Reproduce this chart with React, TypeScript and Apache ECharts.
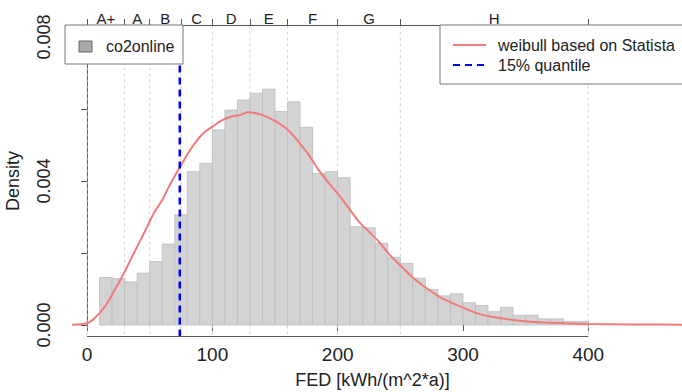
import React, { useEffect, useRef } from "react";
import * as echarts from "echarts";

// Energy efficiency class boundaries (top axis) and labels
const classEdges = [0, 30, 50, 75, 100, 130, 160, 200, 250, 400];
const classLabels = ["A+", "A", "B", "C", "D", "E", "F", "G", "H"];

// Histogram (co2online) bins
const binStarts = [
  10, 20, 30, 40, 50, 60, 70, 80, 90, 100, 110, 120, 130, 140, 150, 160, 170, 180, 190, 200,
  210, 220, 230, 240, 250, 260, 270, 280, 290, 300, 310, 320, 330, 340, 350, 360, 370, 380, 390,
];
const binWidth = 10;
const binDensity = [
  0.00132, 0.00129, 0.0012, 0.00144, 0.00176, 0.00225, 0.00306, 0.00426, 0.00449, 0.00542,
  0.00597, 0.00625, 0.00644, 0.00655, 0.00593, 0.0062, 0.00549, 0.00421, 0.00426, 0.00409,
  0.00273, 0.0027, 0.00227, 0.00188, 0.00171, 0.0013, 0.00099, 0.00081, 0.00087, 0.00062,
  0.00054, 0.00037, 0.00049, 0.00027, 0.00027, 0.00017, 0.00017, 0.0001, 0.0001,
];

// Weibull curve
const weibullX = [
  -12, 0, 6, 14, 22, 30, 38, 46, 54, 60, 66, 75, 84, 92, 100, 108, 116, 122, 128, 135, 143,
  151, 159, 165, 171, 177, 185, 193, 201, 209, 217, 225, 233, 241, 251, 260, 271, 281, 292,
  303, 313, 324, 336, 345, 361, 382, 401, 435, 480,
];
const weibullY = [
  0.00001, 0.00005, 0.00019, 0.0005, 0.00097, 0.00148, 0.00204, 0.00259, 0.00315, 0.00347,
  0.00389, 0.00444, 0.00495, 0.0053, 0.00551, 0.00569, 0.0058, 0.00583, 0.00591, 0.00588,
  0.00579, 0.00565, 0.00546, 0.00525, 0.00499, 0.00472, 0.0043, 0.00394, 0.00361, 0.00324,
  0.00287, 0.00259, 0.00231, 0.00197, 0.00162, 0.00132, 0.00102, 0.00079, 0.0006, 0.00044,
  0.00031, 0.00022, 0.00016, 0.00012, 0.000075, 0.000046, 0.00003, 0.000015, 0.00001,
];

const quantile15 = 74;
const xTickValues = [0, 100, 200, 300, 400];
const xRange = { min: -19.2, max: 474.8 };
const yTicks = { min: 0, max: 0.008, interval: 0.002 };
const yPadLow = -0.00032;
const yPadHigh = 0.00832;

const FONT = "'Liberation Sans', Arial, Helvetica, sans-serif";
const TEXT = "#222";
const AXIS = "#555";

export default function App() {
  const ref = useRef<HTMLDivElement>(null);

  useEffect(() => {
    if (!ref.current) return;
    const chart = echarts.init(ref.current, null, { renderer: "svg" });
    const classMid = classLabels.map((_, i) => (classEdges[i] + classEdges[i + 1]) / 2);
    const xFirst = xTickValues[0];
    const xLast = xTickValues[xTickValues.length - 1];

    const option: any = {
      animation: false,
      grid: { left: 63, right: 0, top: 37, bottom: 67, outerBoundsMode: "none", containLabel: false },
      xAxis: [
        {
          type: "value",
          min: xRange.min,
          max: xRange.max,
          position: "bottom",
          offset: 12,
          axisLine: { show: false },
          axisTick: {
            show: true,
            length: 6,
            customValues: xTickValues,
            lineStyle: { color: AXIS },
          },
          axisLabel: {
            customValues: xTickValues,
            fontSize: 19,
            color: TEXT,
            fontFamily: FONT,
            margin: 8,
          },
          splitLine: { show: false },
          name: "FED [kWh/(m^2*a)]",
          nameLocation: "middle",
          nameGap: 34,
          nameTextStyle: { fontSize: 18, color: TEXT, fontFamily: FONT },
        },
        {
          type: "value",
          min: xRange.min,
          max: xRange.max,
          position: "top",
          offset: 12,
          axisLine: { show: false },
          axisTick: { show: true, length: 6, customValues: classEdges, lineStyle: { color: AXIS } },
          axisLabel: {
            customValues: classMid,
            formatter: (v: number) => {
              const i = classMid.findIndex((m) => Math.abs(m - v) < 1e-6);
              return i >= 0 ? classLabels[i] : "";
            },
            fontSize: 15,
            color: TEXT,
            fontFamily: FONT,
            margin: -1,
          },
          splitLine: { show: false },
        },
      ],
      yAxis: {
        type: "value",
        min: yTicks.min,
        max: yTicks.max,
        interval: yTicks.interval,
        axisLine: { show: true, lineStyle: { color: AXIS, width: 1 } },
        axisTick: { show: true, length: 6, lineStyle: { color: AXIS } },
        axisLabel: {
          rotate: 90,
          fontSize: 18,
          color: TEXT,
          fontFamily: FONT,
          margin: 10,
          formatter: (v: number) =>
            Math.round(v / yTicks.interval) % 2 === 0 ? v.toFixed(3) : "",
        },
        splitLine: { show: false },
        name: "Density",
        nameLocation: "middle",
        nameGap: 41,
        nameTextStyle: { fontSize: 18, color: TEXT, fontFamily: FONT },
      },
      series: [
        {
          type: "custom",
          name: "grid",
          clip: false,
          silent: true,
          data: classEdges.map((v) => [v]),
          encode: { x: 0 },
          renderItem: (_p: any, api: any) => {
            const x = api.value(0);
            const a = api.coord([x, yPadHigh]);
            const b = api.coord([x, yPadLow]);
            return {
              type: "line",
              shape: { x1: a[0], y1: a[1], x2: b[0], y2: b[1] },
              style: { stroke: "#d4d4d4", lineWidth: 1, lineDash: [3, 3] },
            };
          },
          z: 1,
        },
        {
          type: "custom",
          name: "axisLines",
          clip: false,
          silent: true,
          data: [[xFirst, xLast]],
          encode: { x: [0, 1] },
          renderItem: (_p: any, api: any) => {
            const b0 = api.coord([api.value(0), yPadLow]);
            const b1 = api.coord([api.value(1), yPadLow]);
            const t0 = api.coord([api.value(0), yPadHigh]);
            const t1 = api.coord([api.value(1), yPadHigh]);
            return {
              type: "group",
              children: [
                {
                  type: "line",
                  shape: { x1: b0[0], y1: b0[1], x2: b1[0], y2: b1[1] },
                  style: { stroke: AXIS, lineWidth: 1 },
                },
                {
                  type: "line",
                  shape: { x1: t0[0], y1: t0[1], x2: t1[0], y2: t1[1] },
                  style: { stroke: AXIS, lineWidth: 1 },
                },
              ],
            };
          },
          z: 5,
        },
        {
          type: "custom",
          name: "co2online",
          data: binStarts.map((s, i) => [s, s + binWidth, binDensity[i]]),
          encode: { x: [0, 1], y: 2 },
          renderItem: (_p: any, api: any) => {
            const a = api.coord([api.value(0), api.value(2)]);
            const b = api.coord([api.value(1), 0]);
            return {
              type: "rect",
              shape: { x: a[0], y: a[1], width: b[0] - a[0], height: b[1] - a[1] },
              style: { fill: "#d3d3d3", stroke: "#bcbcbc", lineWidth: 0.8 },
            };
          },
          z: 2,
        },
        {
          type: "line",
          name: "weibull based on Statista",
          data: weibullX.map((x, i) => [x, weibullY[i]]),
          smooth: 0.3,
          showSymbol: false,
          clip: false,
          lineStyle: { color: "#f07a7a", width: 2 },
          z: 3,
        },
        {
          type: "line",
          name: "15% quantile",
          data: [
            [quantile15, yPadLow],
            [quantile15, yPadHigh],
          ],
          showSymbol: false,
          clip: false,
          lineStyle: { color: "#0000ff", width: 2.5, type: [7, 5] },
          z: 4,
        },
      ],
      graphic: [
        {
          type: "rect",
          z: 100,
          shape: { x: 65, y: 25, width: 118, height: 39 },
          style: { fill: "#fff", stroke: "#777", lineWidth: 1 },
        },
        {
          type: "rect",
          z: 101,
          shape: { x: 79, y: 41, width: 13, height: 11 },
          style: { fill: "#aaaaaa", stroke: "#666", lineWidth: 1 },
        },
        {
          type: "text",
          z: 101,
          x: 106,
          y: 46.5,
          style: {
            text: "co2online",
            fontSize: 16,
            fontFamily: FONT,
            fill: TEXT,
            verticalAlign: "middle",
          },
        },
        {
          type: "rect",
          z: 100,
          shape: { x: 440, y: 25, width: 260, height: 59 },
          style: { fill: "#fff", stroke: "#777", lineWidth: 1 },
        },
        {
          type: "line",
          z: 101,
          shape: { x1: 453, y1: 45, x2: 486, y2: 45 },
          style: { stroke: "#f07a7a", lineWidth: 2 },
        },
        {
          type: "text",
          z: 101,
          x: 498,
          y: 45,
          style: {
            text: "weibull based on Statista",
            fontSize: 16,
            fontFamily: FONT,
            fill: TEXT,
            verticalAlign: "middle",
          },
        },
        {
          type: "line",
          z: 101,
          shape: { x1: 453, y1: 65, x2: 486, y2: 65 },
          style: { stroke: "#0000ff", lineWidth: 2, lineDash: [7, 5] },
        },
        {
          type: "text",
          z: 101,
          x: 498,
          y: 65,
          style: {
            text: "15% quantile",
            fontSize: 16,
            fontFamily: FONT,
            fill: TEXT,
            verticalAlign: "middle",
          },
        },
      ],
    };

    chart.setOption(option);
    return () => chart.dispose();
  }, []);

  return (
    <div
      ref={ref}
      style={{ position: "fixed", left: 0, top: 0, width: 682, height: 392, background: "#fff" }}
    />
  );
}
